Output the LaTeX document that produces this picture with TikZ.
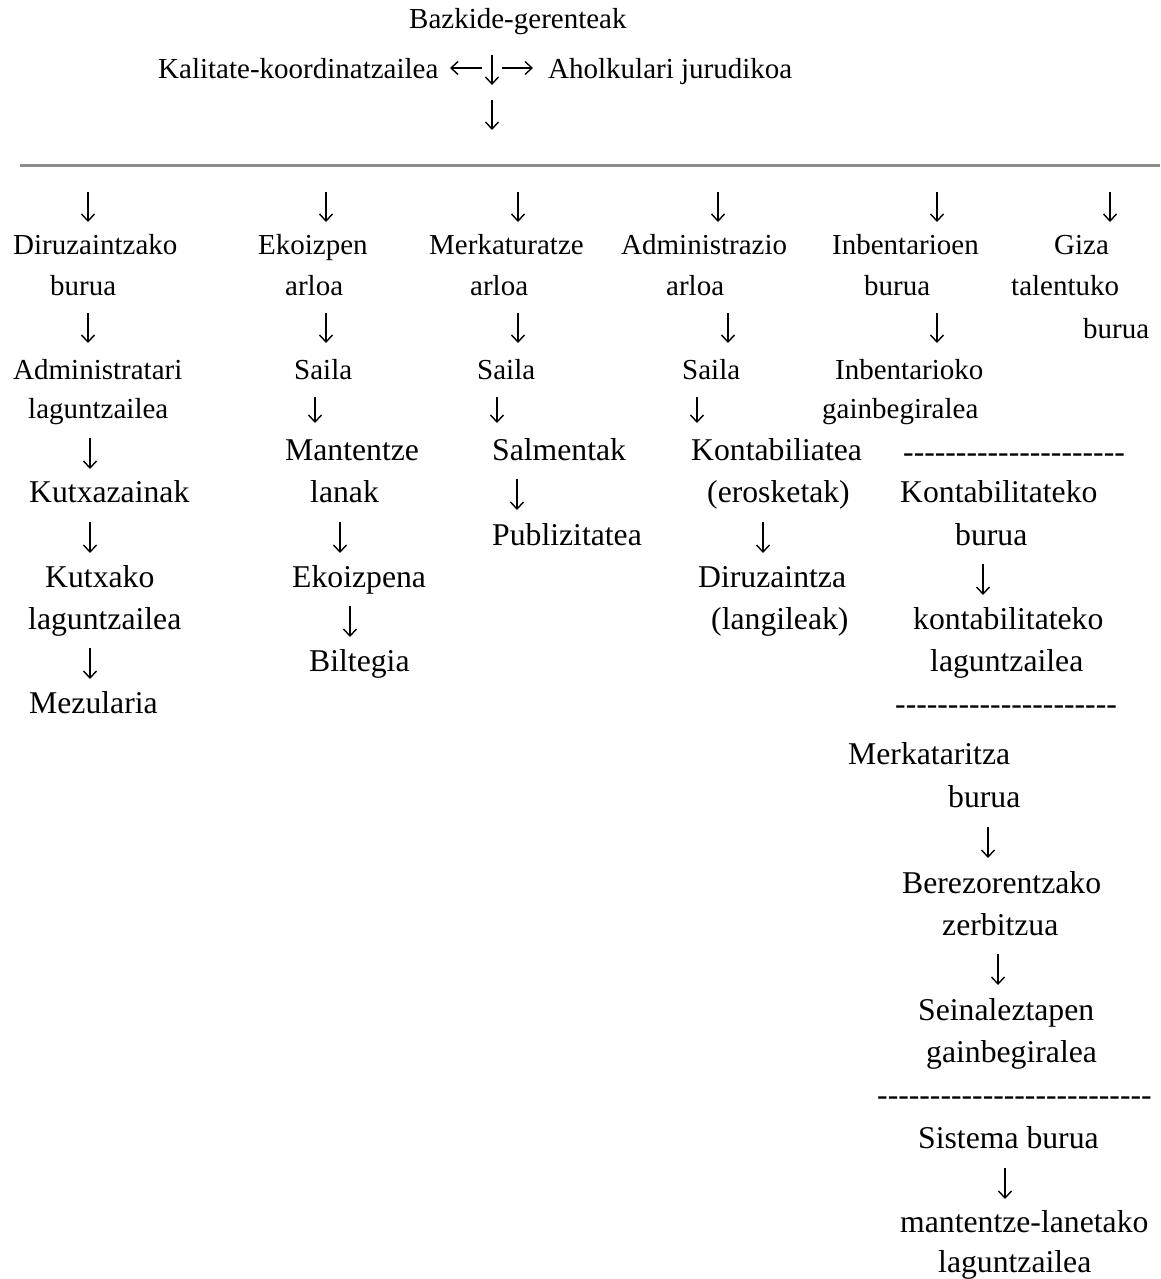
\documentclass[tikz,border=0pt]{standalone}
\usepackage{fontspec}
\usetikzlibrary{arrows.meta}
\setmainfont{Liberation Serif}
\newcommand\hyc{\mbox{-}}
\newcommand\hyten{\hyc\hyc\hyc\hyc\hyc\hyc\hyc\hyc\hyc\hyc}
% #1 name, #2 x, #3 top y, #4 tip y
\newcommand\downarr[4]{%
  \coordinate (#1s) at (#2,#3);
  \coordinate (#1e) at (#2,#4);
  \draw[darr] (#1s) -- (#1e);}
\begin{document}
\begin{tikzpicture}[x=1pt,y=-1pt,
  sm/.style={anchor=base west,inner sep=0pt,font=\fontsize{29}{34}\selectfont},
  lg/.style={anchor=base west,inner sep=0pt,font=\fontsize{31.7}{38}\selectfont},
  darr/.style={line width=1.4pt,-{Straight Barb[length=7pt,width=13pt,line width=1.4pt]}},
  rule/.style={draw=black!45,line width=3pt}]
\useasboundingbox[fill=white] (0,0) rectangle (1160,1279);
% top
\node[sm] (bazk) at (409,29) {Bazkide-gerenteak};
\node[sm] (kal) at (158,79) {Kalitate-koordinatzailea};
\node[sm] (aho) at (548,79) {Aholkulari jurudikoa};
\coordinate (lars) at (482,68);
\coordinate (lare) at (450,68);
\draw[darr] (lars) -- (lare);
\coordinate (rars) at (502,68);
\coordinate (rare) at (533,68);
\draw[darr] (rars) -- (rare);
\downarr{tdn}{492}{55}{85}
\downarr{tdnb}{492}{100}{130}
\coordinate (ruleL) at (20,165);
\coordinate (ruleR) at (1160,165);
\draw[rule] (ruleL) -- (ruleR);
% row of arrows
\downarr{a1}{88}{192}{222}
\downarr{a2}{326}{192}{222}
\downarr{a3}{518}{192}{222}
\downarr{a4}{718}{192}{222}
\downarr{a5}{937}{192}{222}
\downarr{a6}{1110}{192}{222}
% headers
\node[sm] (h1a) at (13,254) {Diruzaintzako};
\node[sm] (h2a) at (258,254) {Ekoizpen};
\node[sm] (h3a) at (429,254) {Merkaturatze};
\node[sm] (h4a) at (621,254) {Administrazio};
\node[sm] (h5a) at (832,254) {Inbentarioen};
\node[sm] (h6a) at (1054,254) {Giza};
\node[sm] (h1b) at (50,295) {burua};
\node[sm] (h2b) at (285,295) {arloa};
\node[sm] (h3b) at (470,295) {arloa};
\node[sm] (h4b) at (666,295) {arloa};
\node[sm] (h5b) at (864,295) {burua};
\node[sm] (h6b) at (1011,295) {talentuko};
\downarr{b1}{88}{313}{343}
\downarr{b2}{326}{313}{343}
\downarr{b3}{518}{313}{343}
\downarr{b4}{728}{313}{343}
\downarr{b5}{937}{313}{343}
\node[sm] (h6c) at (1083,338) {burua};
\node[sm] (c1a) at (13,379) {Administratari};
\node[sm] (c2a) at (294,379) {Saila};
\node[sm] (c3a) at (477,379) {Saila};
\node[sm] (c4a) at (682,379) {Saila};
\node[sm] (c5a) at (835,379) {Inbentarioko};
\node[sm] (c1b) at (28,418) {laguntzailea};
\downarr{d2}{315}{397}{423}
\downarr{d3}{497}{397}{423}
\downarr{d4}{697}{397}{423}
\node[sm] (c5b) at (822,418) {gainbegiralea};
% large rows
\downarr{e1}{90}{438}{469}
\node[lg] (m2) at (285,460) {Mantentze};
\node[lg] (m3) at (492,460) {Salmentak};
\node[lg] (m4) at (691,460) {Kontabiliatea};
\node[lg] (dsh1) at (903,462) {\hyten\hyten\hyc};
\node[lg] (k1) at (29,502) {Kutxazainak};
\node[lg] (m2b) at (310,502) {lanak};
\downarr{f3}{517}{479}{510}
\node[lg] (m4b) at (707,502) {(erosketak)};
\node[lg] (kb1) at (900,502) {Kontabilitateko};
\downarr{g1}{90}{522}{553}
\downarr{g2}{340}{522}{553}
\node[lg] (p3) at (492,545) {Publizitatea};
\downarr{g4}{763}{522}{553}
\node[lg] (kb2) at (955,545) {burua};
\node[lg] (k2) at (45,587) {Kutxako};
\node[lg] (ek) at (292,587) {Ekoizpena};
\node[lg] (dz) at (698,587) {Diruzaintza};
\downarr{h5}{983}{564}{595}
\node[lg] (k3) at (28,629) {laguntzailea};
\downarr{i2}{350}{606}{637}
\node[lg] (dz2) at (711,629) {(langileak)};
\node[lg] (kl1) at (913,629) {kontabilitateko};
\downarr{j1}{90}{648}{679}
\node[lg] (bil) at (309,671) {Biltegia};
\node[lg] (kl2) at (930,671) {laguntzailea};
\node[lg] (mez) at (29,713) {Mezularia};
\node[lg] (dsh2) at (895,714) {\hyten\hyten\hyc};
% right bottom column
\node[lg] (mk1) at (848,764) {Merkataritza};
\node[lg] (mk2) at (948,807) {burua};
\downarr{r1}{988}{827}{858}
\node[lg] (bz1) at (902,893) {Berezorentzako};
\node[lg] (bz2) at (942,935) {zerbitzua};
\downarr{r2}{998}{954}{985}
\node[lg] (sn1) at (918,1020) {Seinaleztapen};
\node[lg] (sn2) at (926,1062) {gainbegiralea};
\node[lg] (dsh3) at (877,1105) {\hyten\hyten\hyc\hyc\hyc\hyc\hyc\hyc};
\node[lg] (sb) at (918,1148) {Sistema burua};
\downarr{r3}{1005}{1168}{1199}
\node[lg] (ml1) at (900,1232) {mantentze-lanetako};
\node[lg] (ml2) at (938,1272) {laguntzailea};
\end{tikzpicture}
\end{document}
